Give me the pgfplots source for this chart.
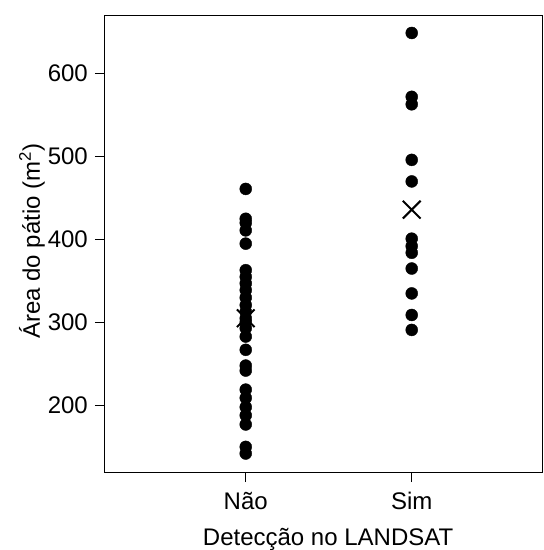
\documentclass[border=0pt]{standalone}
\usepackage{fontspec}
\setmainfont{Liberation Sans}
\usepackage{pgfplots}
\pgfplotsset{compat=1.18}

\newcommand{\lblfont}{\fontsize{24bp}{28bp}\selectfont}

\begin{document}
\begin{tikzpicture}
\begin{axis}[
    name=ax,
    scale only axis,
    width=437.5bp, height=456.7bp,
    xmin=0.152, xmax=2.788,
    ymin=119.7, ymax=670.3,
    xtick={1,2}, xticklabels={Não,Sim},
    ytick={200,300,400,500,600},
    xtick pos=bottom, ytick pos=left,
    tick align=outside,
    major tick length=10bp,
    every tick/.style={black, line width=1bp},
    axis line style={black, line width=1bp},
    /pgf/number format/assume math mode=true,
    ticklabel style={font=\lblfont, inner sep=0pt},
    xticklabel style={anchor=base, yshift=-27bp},
    yticklabel style={anchor=east, xshift=-7bp},
    xlabel={Detecção no LANDSAT},
    ylabel={Área do pátio (m\textsuperscript{2})},
    every axis x label/.style={at={(axis description cs:0.51,-0.162)}, anchor=base, font=\lblfont, inner sep=0pt},
    every axis y label/.style={at={(axis description cs:-0.149,0.505)}, rotate=90, anchor=base, font=\lblfont, inner sep=0pt},
]
% Não
\addplot[only marks, mark=*, mark size=6bp, black] coordinates {
(1,461) (1,425) (1,420) (1,411) (1,395) (1,363) (1,355) (1,347) (1,339)
(1,330) (1,321) (1,313) (1,305) (1,300) (1,293) (1,283) (1,267) (1,248)
(1,242) (1,219) (1,209) (1,198) (1,188) (1,177) (1,150) (1,142)
};
% Sim
\addplot[only marks, mark=*, mark size=6bp, black] coordinates {
(2,649) (2,572) (2,563) (2,496) (2,470) (2,401) (2,392) (2,384) (2,365)
(2,335) (2,309) (2,291)
};
% médias
\addplot[only marks, mark=x, mark size=12.5bp, black, line width=2bp] coordinates {
(1,305) (2,436)
};
\end{axis}
\pgfresetboundingbox
\path[use as bounding box] ([shift={(-105bp,-78bp)}]ax.south west) rectangle ([shift={(1bp,15.3bp)}]ax.north east);
\end{tikzpicture}
\end{document}
